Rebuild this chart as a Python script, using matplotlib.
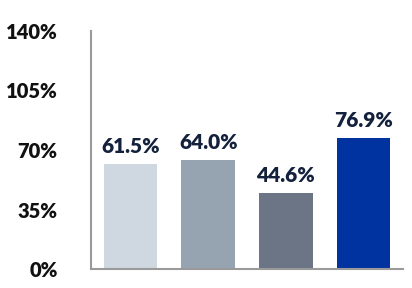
import numpy as np
import matplotlib.pyplot as plt

# valori
valori = [61.5, 64.0, 44.6, 76.9]
etichette = ["61.5%", "64.0%", "44.6%", "76.9%"]
colori = ["#CFD7E0", "#96A3B1", "#6B7585", "#0033A0"]
tick_y = [0, 35, 70, 105, 140]

plt.rcParams['font.family'] = ['Lato', 'DejaVu Sans']

fig = plt.figure(figsize=(4.12, 2.88), dpi=100)
ax = fig.add_axes([91/412, 1 - 269/288, (403 - 91)/412, (269 - 31)/288])

x = np.arange(len(valori))
barre = ax.bar(x, valori, width=0.69, color=colori)

for b, testo in zip(barre, etichette):
    ax.annotate(testo, (b.get_x() + b.get_width()/2, b.get_height()),
                xytext=(0, 6), textcoords='offset points',
                ha='center', va='bottom', fontsize=15, fontweight='heavy',
                color='#14213D')

ax.set_xlim(-0.51, 3.51)
ax.set_ylim(0, 140)
ax.set_yticks(tick_y)
ax.set_yticklabels(["%d%%" % v for v in tick_y], fontsize=14.5,
                   fontweight='heavy', color='#111111')
ax.set_xticks([])
ax.tick_params(axis='y', length=0, pad=24)

for s in ['top', 'right']:
    ax.spines[s].set_visible(False)
for s in ['left', 'bottom']:
    ax.spines[s].set_color('#9A9A9A')
    ax.spines[s].set_linewidth(1.5)

fig.savefig("out.png", dpi=100)
